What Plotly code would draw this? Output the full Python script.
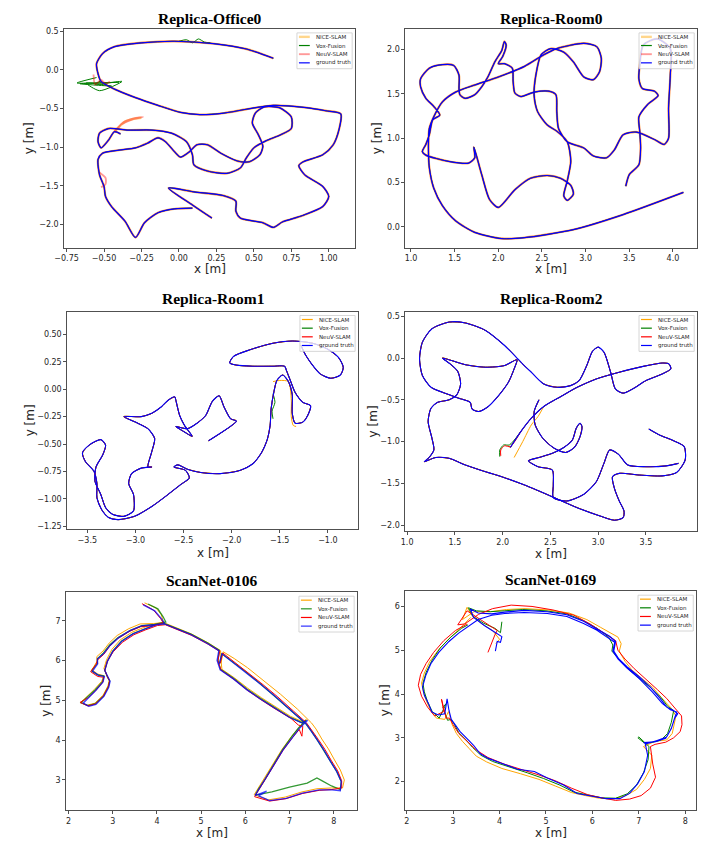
import plotly.graph_objects as go

# Page body adds an 8px margin, so the figure is drawn at (8, 8)
PAGE_OFF = 8
W, H = 710 - PAGE_OFF, 842 - PAGE_OFF

SERIES = ["NICE-SLAM", "Vox-Fusion", "NeuV-SLAM", "ground truth"]

# ---------------- Replica-Office0 ----------------
office0_gt_a_x = [0.63, 0.45, 0.23, -0.03, -0.25, -0.43, -0.51, -0.55, -0.54, -0.52, -0.43, -0.29, -0.14, 0.01, 0.14,
                  0.30, 0.45, 0.63, 0.85, 0.98, 1.08, 1.07, 1.03, 0.96, 0.83, 0.80, 0.84, 0.96, 1.00, 0.96, 0.82, 0.69,
                  0.63, 0.56, 0.41, 0.38, 0.38, 0.30, 0.10, -0.07, 0.09, 0.22]
office0_gt_a_y = [0.15, 0.27, 0.34, 0.37, 0.35, 0.30, 0.21, 0.08, -0.05, -0.15, -0.25, -0.36, -0.46, -0.55, -0.58,
                  -0.56, -0.51, -0.46, -0.49, -0.53, -0.57, -0.76, -0.97, -1.10, -1.19, -1.24, -1.36, -1.51, -1.64,
                  -1.77, -1.89, -1.97, -2.04, -1.98, -1.92, -1.83, -1.70, -1.63, -1.58, -1.53, -1.75, -1.92]
office0_gt_b_x = [0.09, -0.03, -0.14, -0.23, -0.29, -0.36, -0.45, -0.49, -0.50, -0.53, -0.54, -0.51, -0.40, -0.29,
                  -0.21, -0.14, -0.09, -0.03, 0.01, 0.07, 0.12, 0.19, 0.28, 0.39, 0.47, 0.54, 0.56, 0.53, 0.49, 0.51,
                  0.57, 0.67, 0.75, 0.75, 0.68, 0.58, 0.50, 0.45, 0.41, 0.32, 0.19, 0.10, 0.09, 0.05, -0.05, -0.18,
                  -0.34, -0.47, -0.53, -0.54, -0.52, -0.47, -0.43, -0.39]
office0_gt_b_y = [-1.79, -1.80, -1.85, -1.98, -2.17, -1.96, -1.77, -1.64, -1.51, -1.36, -1.16, -1.08, -1.04, -1.01,
                  -0.95, -0.88, -0.93, -1.06, -1.13, -1.06, -0.97, -0.97, -1.08, -1.18, -1.19, -1.10, -0.99, -0.84,
                  -0.69, -0.56, -0.48, -0.49, -0.61, -0.76, -0.84, -0.92, -1.01, -1.14, -1.27, -1.34, -1.31, -1.23,
                  -1.10, -0.93, -0.82, -0.78, -0.78, -0.76, -0.82, -0.93, -1.01, -0.91, -0.80, -0.83]
office0_nice_spike_x = [-0.43, -0.36, -0.29, -0.25]
office0_nice_spike_y = [-0.80, -0.67, -0.63, -0.62]
office0_vox_scribble_x = [-0.55, -0.68, -0.40, -0.66, -0.45, -0.62, -0.53, -0.38, -0.56, -0.52]
office0_vox_scribble_y = [-0.10, -0.17, -0.16, -0.18, -0.21, -0.17, -0.27, -0.15, -0.19, -0.14]
office0_vox_bumps_x = [0.00, 0.05, 0.09, 0.13, 0.17, 0.21]
office0_vox_bumps_y = [0.37, 0.39, 0.35, 0.40, 0.36, 0.35]
office0_neuv_zig_x = [-0.57, -0.56, -0.52, -0.49, -0.46]
office0_neuv_zig_y = [-0.06, -0.19, -0.13, -0.18, -0.15]
office0_neuv_spike_x = [-0.43, -0.37, -0.30, -0.24, -0.31, -0.39]
office0_neuv_spike_y = [-0.80, -0.68, -0.63, -0.61, -0.64, -0.71]
office0_neuv_bulge_x = [-0.53, -0.49, -0.49, -0.52]
office0_neuv_bulge_y = [-1.33, -1.40, -1.48, -1.52]
office0_xticks = [-0.75, -0.5, -0.25, 0.0, 0.25, 0.5, 0.75, 1.0]
office0_xlabels = ["\u22120.75", "\u22120.50", "\u22120.25", "0.00", "0.25", "0.50", "0.75", "1.00"]
office0_yticks = [-2.0, -1.5, -1.0, -0.5, 0.0, 0.5]
office0_ylabels = ["\u22122.0", "\u22121.5", "\u22121.0", "\u22120.5", "0.0", "0.5"]

# ---------------- Replica-Room0 ----------------
room0_gt_x = [3.46, 3.50, 3.61, 3.63, 3.62, 3.61, 3.71, 3.83, 3.79, 3.65,
              3.61, 3.62, 3.66, 3.82, 3.97, 3.97, 3.95, 3.95, 3.90, 3.80,
              3.58, 3.43, 3.33, 3.24, 3.09, 2.98, 2.79, 2.69, 2.67, 2.66,
              2.58, 2.41, 2.26, 2.19, 2.17, 2.16, 2.07, 2.00, 2.05, 2.09,
              2.07, 2.04, 1.96, 1.88, 1.81, 1.73, 1.62, 1.56, 1.55, 1.55,
              1.49, 1.36, 1.21, 1.11, 1.11, 1.17, 1.26, 1.33, 1.25, 1.21,
              1.17, 1.13, 1.17, 1.43, 1.66, 1.73, 1.72, 1.81, 1.90, 2.00,
              2.19, 2.37, 2.56, 2.71, 2.83, 2.86, 2.79, 2.75, 2.79, 2.83,
              2.79, 2.67, 2.56, 2.45, 2.41, 2.43, 2.49, 2.60, 2.75, 2.86,
              2.98, 3.09, 3.16, 3.18, 3.13, 2.98, 2.67, 2.52, 2.30, 2.00,
              1.73, 1.51, 1.36, 1.26, 1.21, 1.20, 1.21, 1.26, 1.36, 1.51,
              1.73, 2.04, 2.30, 2.86, 3.43, 4.12]
room0_gt_y = [0.46, 0.59, 0.70, 0.89, 1.08, 1.24, 1.38, 1.48, 1.53, 1.56,
              1.67, 1.82, 2.05, 2.12, 2.01, 1.71, 1.34, 1.00, 0.93, 0.98,
              1.07, 1.04, 0.87, 0.78, 0.80, 0.89, 0.96, 1.11, 1.30, 1.49,
              1.53, 1.52, 1.47, 1.51, 1.64, 1.79, 1.84, 1.84, 1.92, 2.05,
              2.09, 1.99, 1.86, 1.69, 1.58, 1.49, 1.45, 1.49, 1.56, 1.71,
              1.82, 1.83, 1.79, 1.67, 1.58, 1.45, 1.36, 1.26, 1.21, 1.04,
              0.93, 0.85, 0.81, 0.74, 0.72, 0.78, 0.90, 0.59, 0.31, 0.22,
              0.42, 0.55, 0.58, 0.55, 0.47, 0.37, 0.30, 0.35, 0.52, 0.74,
              0.96, 1.08, 1.15, 1.30, 1.49, 1.71, 1.94, 2.01, 1.97, 1.86,
              1.69, 1.66, 1.75, 1.90, 2.03, 2.07, 2.01, 1.94, 1.81, 1.69,
              1.60, 1.52, 1.41, 1.24, 1.11, 0.93, 0.67, 0.44, 0.24, 0.07,
              -0.06, -0.13, -0.12, -0.03, 0.14, 0.39]
room0_xticks = [1.0, 1.5, 2.0, 2.5, 3.0, 3.5, 4.0]
room0_xlabels = ["1.0", "1.5", "2.0", "2.5", "3.0", "3.5", "4.0"]
room0_yticks = [0.0, 0.5, 1.0, 1.5, 2.0]
room0_ylabels = ["0.0", "0.5", "1.0", "1.5", "2.0"]

# ---------------- Replica-Room1 ----------------
room1_gt_x = [-2.24, -1.95, -2.01, -2.08, -2.13, -2.20, -2.27, -2.36, -2.46, -2.58,
              -2.49, -2.41, -2.49, -2.54, -2.58, -2.59, -2.66, -2.73, -2.83, -2.94,
              -3.12, -3.00, -2.87, -2.80, -2.83, -2.87, -2.83, -2.94, -3.04, -3.07,
              -3.02, -3.02, -3.12, -3.24, -3.31, -3.36, -3.42, -3.41, -3.34, -3.31,
              -3.36, -3.48, -3.55, -3.52, -3.43, -3.40, -3.40, -3.35, -3.28, -3.18,
              -3.01, -2.83, -2.66, -2.53, -2.44, -2.48, -2.60, -2.56, -2.46, -2.32,
              -2.12, -1.91, -1.78, -1.69, -1.63, -1.60, -1.59, -1.56, -1.53, -1.47,
              -1.41, -1.37, -1.37, -1.34, -1.26, -1.21, -1.18, -1.26, -1.34, -1.39,
              -1.43, -1.45, -1.57, -1.78, -1.95, -2.02, -1.98, -1.81, -1.57, -1.37,
              -1.16, -1.01, -0.89, -0.84, -0.87, -0.97, -1.08, -1.16, -1.23, -1.28]
room1_gt_y = [-0.47, -0.29, -0.27, -0.16, -0.06, -0.11, -0.24, -0.31, -0.36, -0.34,
              -0.39, -0.43, -0.33, -0.24, -0.10, -0.07, -0.10, -0.16, -0.22, -0.25,
              -0.25, -0.30, -0.36, -0.45, -0.57, -0.71, -0.71, -0.72, -0.77, -0.86,
              -0.96, -1.11, -1.16, -1.14, -1.08, -0.96, -0.84, -0.71, -0.60, -0.51,
              -0.46, -0.51, -0.58, -0.66, -0.75, -0.86, -0.99, -1.10, -1.17, -1.19,
              -1.16, -1.07, -0.96, -0.87, -0.81, -0.74, -0.71, -0.69, -0.73, -0.76,
              -0.77, -0.74, -0.68, -0.58, -0.46, -0.33, -0.18, -0.02, 0.08, 0.13,
              0.07, -0.05, -0.22, -0.31, -0.30, -0.24, -0.15, -0.12, -0.03, 0.08,
              0.17, 0.21, 0.21, 0.21, 0.22, 0.24, 0.30, 0.36, 0.42, 0.44,
              0.42, 0.37, 0.29, 0.20, 0.13, 0.10, 0.14, 0.22, 0.31, 0.40]
room1_nice_extra_x = [-1.57, -1.50, -1.41, -1.38, -1.38, -1.36, -1.33]
room1_nice_extra_y = [0.07, 0.08, 0.07, -0.10, -0.25, -0.33, -0.34]
room1_vox_extra_x = [-1.57, -1.55, -1.58, -1.57]
room1_vox_extra_y = [-0.04, -0.12, -0.20, -0.27]
room1_xticks = [-3.5, -3.0, -2.5, -2.0, -1.5, -1.0]
room1_xlabels = ["\u22123.5", "\u22123.0", "\u22122.5", "\u22122.0", "\u22121.5", "\u22121.0"]
room1_yticks = [-1.25, -1.0, -0.75, -0.5, -0.25, 0.0, 0.25, 0.5]
room1_ylabels = ["\u22121.25", "\u22121.00", "\u22120.75", "\u22120.50", "\u22120.25", "0.00", "0.25", "0.50"]

# ---------------- Replica-Room2 ----------------
room2_gt_a_x = [2.08, 2.19, 2.30, 2.43, 2.61, 2.78, 2.98, 3.22, 3.47, 3.67, 3.74, 3.76, 3.67, 3.50, 3.36, 3.26,
                3.18, 3.13, 3.06, 3.00, 2.94, 2.88, 2.80, 2.71, 2.57, 2.43, 2.30, 2.20, 2.15, 2.02, 1.82, 1.61,
                1.44, 1.26, 1.16, 1.13, 1.16, 1.25, 1.37, 1.54, 1.66, 1.68, 1.75, 1.85, 1.95, 2.06, 2.12, 2.15,
                2.02, 1.82, 1.61, 1.37, 1.45, 1.53, 1.56, 1.52, 1.44, 1.32, 1.25, 1.22, 1.26, 1.28, 1.23, 1.18,
                1.30, 1.44, 1.61, 1.82, 1.99, 2.23, 2.50, 2.78, 3.02, 3.17, 3.26, 3.27, 3.22, 3.17, 3.15, 3.22,
                3.43, 3.67, 3.82, 3.91, 3.90, 3.79, 3.64, 3.53]
room2_gt_a_y = [-1.07, -0.88, -0.72, -0.58, -0.46, -0.35, -0.25, -0.17, -0.10, -0.06, -0.07, -0.13, -0.19, -0.27,
                -0.37, -0.42, -0.37, -0.17, 0.07, 0.13, 0.08, -0.09, -0.27, -0.33, -0.35, -0.31, -0.17, -0.06,
                0.00, 0.15, 0.33, 0.42, 0.43, 0.35, 0.19, -0.01, -0.21, -0.35, -0.41, -0.48, -0.53, -0.61, -0.64,
                -0.58, -0.46, -0.29, -0.13, -0.02, -0.09, -0.11, -0.08, 0.00, -0.07, -0.16, -0.31, -0.44, -0.50,
                -0.53, -0.60, -0.76, -0.96, -1.10, -1.19, -1.24, -1.19, -1.20, -1.28, -1.36, -1.42, -1.52, -1.65,
                -1.79, -1.89, -1.94, -1.91, -1.83, -1.71, -1.56, -1.42, -1.38, -1.40, -1.41, -1.37, -1.22, -1.06,
                -0.99, -0.92, -0.85]
room2_gt_b_x = [2.38, 2.33, 2.34, 2.42, 2.54, 2.66, 2.75, 2.81, 2.83, 2.81, 2.77, 2.73, 2.64, 2.52, 2.38, 2.27,
                2.37, 2.52, 2.53, 2.53, 2.67, 2.85, 2.98, 3.06, 3.12, 3.21, 3.31, 3.50, 3.71, 3.84]
room2_gt_b_y = [-0.50, -0.64, -0.80, -0.96, -1.08, -1.13, -1.07, -0.94, -0.82, -0.78, -0.84, -0.98, -1.07, -1.14,
                -1.19, -1.23, -1.30, -1.34, -1.52, -1.67, -1.71, -1.63, -1.48, -1.26, -1.10, -1.15, -1.28, -1.30,
                -1.29, -1.26]
room2_nice_tail_x = [2.12, 2.21, 2.30, 2.37, 2.43]
room2_nice_tail_y = [-1.19, -1.00, -0.80, -0.70, -0.58]
room2_vox_hook_x = [1.97, 1.97, 2.01, 2.07, 2.19]
room2_vox_hook_y = [-1.18, -1.10, -1.04, -1.04, -0.88]
room2_neuv_hook_x = [1.98, 1.98, 2.02, 2.08, 2.19]
room2_neuv_hook_y = [-1.17, -1.10, -1.05, -1.06, -0.88]
room2_xticks = [1.0, 1.5, 2.0, 2.5, 3.0, 3.5]
room2_xlabels = ["1.0", "1.5", "2.0", "2.5", "3.0", "3.5"]
room2_yticks = [-2.0, -1.5, -1.0, -0.5, 0.0, 0.5]
room2_ylabels = ["\u22122.0", "\u22121.5", "\u22121.0", "\u22120.5", "0.0", "0.5"]

# ---------------- ScanNet-0106 ----------------
s0106_gt_x = [3.69, 3.95, 4.11, 4.17, 3.95, 3.65, 3.39, 3.13, 2.94, 2.80, 2.65, 2.66, 2.54, 2.68, 2.81, 2.78, 2.62,
              2.46, 2.33, 2.46, 2.62, 2.80, 2.91, 2.94, 2.89, 2.82, 2.88, 3.00, 3.20, 3.46, 3.72, 3.99, 4.17, 4.39,
              4.77, 5.14, 5.40, 5.36, 5.43, 5.73, 6.03, 6.33, 6.62, 7.00, 7.29, 7.41, 7.22, 7.07, 6.85, 6.62, 6.44,
              6.29, 6.22, 6.48, 6.30, 6.55, 6.92, 7.29, 7.67, 7.96, 8.15, 8.17, 8.07, 7.93, 7.78, 7.63, 7.48, 7.37,
              7.07, 6.70, 6.33, 5.96, 5.66, 5.47, 5.41]
s0106_gt_y = [7.40, 7.25, 7.04, 6.93, 6.90, 6.87, 6.75, 6.57, 6.38, 6.18, 6.04, 5.92, 5.73, 5.63, 5.60, 5.46, 5.25,
              5.08, 4.93, 4.85, 4.90, 5.10, 5.33, 5.48, 5.58, 5.75, 5.98, 6.23, 6.48, 6.67, 6.79, 6.90, 6.92, 6.82,
              6.65, 6.43, 6.25, 6.00, 5.77, 5.54, 5.27, 5.04, 4.83, 4.57, 4.43, 4.50, 4.29, 4.08, 3.75, 3.33, 3.00,
              2.75, 2.61, 2.72, 2.60, 2.48, 2.54, 2.67, 2.75, 2.75, 2.73, 2.96, 3.21, 3.46, 3.75, 4.00, 4.25, 4.42,
              4.71, 5.08, 5.42, 5.75, 6.00, 6.17, 5.92]
s0106_nice_x = [3.72, 3.98, 4.10, 4.15, 3.92, 3.62, 3.36, 3.10, 2.92, 2.78, 2.64, 2.64, 2.53, 2.66, 2.80, 2.75, 2.58,
                2.42, 2.28, 2.42, 2.60, 2.78, 2.89, 2.92, 2.87, 2.80, 2.86, 2.98, 3.17, 3.43, 3.70, 3.97, 4.16, 4.40,
                4.78, 5.15, 5.44, 5.45, 5.47, 5.76, 6.06, 6.36, 6.65, 7.02, 7.30, 7.38, 7.20, 7.05, 6.83, 6.60, 6.42,
                6.27, 6.20, 6.52, 6.90, 7.28, 7.62, 7.95, 8.20, 8.24, 8.15, 8.02, 7.88, 7.73, 7.60, 7.50, 7.18, 6.80,
                6.42, 6.05, 5.75, 5.50, 5.45]
s0106_nice_y = [7.45, 7.32, 7.15, 6.95, 6.93, 6.92, 6.80, 6.63, 6.44, 6.24, 6.10, 5.97, 5.77, 5.66, 5.62, 5.48, 5.27,
                5.10, 4.95, 4.88, 4.93, 5.13, 5.36, 5.50, 5.62, 5.80, 6.02, 6.28, 6.52, 6.71, 6.83, 6.93, 6.95, 6.84,
                6.67, 6.45, 6.25, 6.00, 5.78, 5.56, 5.30, 5.07, 4.86, 4.60, 4.46, 4.52, 4.30, 4.10, 3.77, 3.35, 3.02,
                2.76, 2.63, 2.50, 2.57, 2.70, 2.78, 2.80, 2.80, 3.00, 3.25, 3.50, 3.78, 4.03, 4.28, 4.43, 4.78, 5.15,
                5.50, 5.82, 6.05, 6.22, 5.95]
s0106_vox_x = [3.80, 4.02, 4.14, 4.20, 3.95, 3.66, 3.40, 3.12, 2.93, 2.79, 2.66, 2.65, 2.52, 2.66, 2.80, 2.77, 2.60,
               2.44, 2.28, 2.44, 2.61, 2.79, 2.90, 2.93, 2.88, 2.82, 2.88, 3.00, 3.20, 3.46, 3.72, 3.99, 4.17, 4.40,
               4.78, 5.15, 5.41, 5.38, 5.44, 5.74, 6.04, 6.34, 6.63, 7.00, 7.28, 7.38, 7.20, 7.05, 6.84, 6.62, 6.44,
               6.29, 6.23, 6.60, 7.00, 7.40, 7.62, 7.75, 7.95, 8.15, 8.17, 8.07, 7.93, 7.78, 7.63, 7.48, 7.36, 7.07,
               6.70, 6.34, 5.97, 5.67, 5.47, 5.42]
s0106_vox_y = [7.42, 7.30, 7.10, 6.97, 6.91, 6.88, 6.76, 6.58, 6.39, 6.19, 6.05, 5.93, 5.74, 5.64, 5.61, 5.47, 5.26,
               5.09, 4.94, 4.87, 4.92, 5.11, 5.34, 5.49, 5.59, 5.76, 5.99, 6.24, 6.49, 6.68, 6.80, 6.91, 6.93, 6.83,
               6.66, 6.44, 6.26, 6.01, 5.78, 5.55, 5.28, 5.05, 4.84, 4.58, 4.44, 4.50, 4.30, 4.09, 3.76, 3.34, 3.01,
               2.76, 2.62, 2.70, 2.82, 2.92, 3.05, 2.97, 2.85, 2.76, 2.96, 3.21, 3.46, 3.75, 4.00, 4.25, 4.42, 4.71,
               5.08, 5.42, 5.75, 6.00, 6.17, 5.93]
s0106_neuv_x = [3.66, 3.92, 4.08, 4.14, 3.93, 3.63, 3.37, 3.11, 2.93, 2.80, 2.66, 2.62, 2.50, 2.66, 2.80, 2.77, 2.61,
                2.45, 2.26, 2.44, 2.61, 2.79, 2.90, 2.93, 2.88, 2.82, 2.88, 3.01, 3.22, 3.48, 3.74, 4.01, 4.19, 4.41,
                4.79, 5.16, 5.42, 5.38, 5.45, 5.75, 6.05, 6.35, 6.64, 7.02, 7.20, 7.30, 7.28, 7.22, 7.07, 6.85, 6.62,
                6.44, 6.29, 6.21, 6.55, 6.92, 7.29, 7.67, 7.96, 8.18, 8.18, 8.09, 7.95, 7.80, 7.65, 7.50, 7.38, 7.09,
                6.72, 6.35, 5.98, 5.68, 5.49, 5.43]
s0106_neuv_y = [7.43, 7.27, 7.06, 6.95, 6.88, 6.85, 6.73, 6.55, 6.36, 6.16, 6.02, 5.90, 5.72, 5.60, 5.58, 5.45, 5.24,
                5.07, 4.95, 4.86, 4.91, 5.11, 5.34, 5.49, 5.59, 5.76, 5.99, 6.22, 6.46, 6.65, 6.77, 6.88, 6.90, 6.80,
                6.63, 6.41, 6.23, 5.99, 5.76, 5.52, 5.25, 5.02, 4.81, 4.56, 4.38, 4.35, 4.10, 4.27, 4.07, 3.74, 3.32,
                3.00, 2.75, 2.58, 2.47, 2.53, 2.66, 2.74, 2.76, 2.80, 2.98, 3.23, 3.48, 3.77, 4.02, 4.27, 4.44, 4.73,
                5.10, 5.44, 5.77, 6.02, 6.19, 5.93]
s0106_xticks = [2, 3, 4, 5, 6, 7, 8]
s0106_xlabels = ["2", "3", "4", "5", "6", "7", "8"]
s0106_yticks = [3, 4, 5, 6, 7]
s0106_ylabels = ["3", "4", "5", "6", "7"]

# ---------------- ScanNet-0169 ----------------
s0169_gt_x = [3.91, 3.95, 4.02, 4.05, 3.90, 3.68, 3.44, 3.37, 3.54, 3.83, 4.11, 4.53, 5.03, 5.45, 5.81, 6.09, 6.37,
              6.50, 6.46, 6.57, 6.75, 7.00, 7.24, 7.46, 7.60, 7.74, 7.84, 7.77, 7.70, 7.60, 7.38, 7.14, 7.19, 7.12,
              6.98, 6.80, 6.59, 6.30, 5.95, 5.67, 5.38, 5.03, 4.75, 4.39, 4.04, 3.76, 3.58, 3.44, 3.30, 3.15, 3.05,
              2.96, 2.91, 2.87, 2.82, 2.68, 2.54, 2.47, 2.38, 2.34, 2.41, 2.52, 2.69, 2.91, 3.12, 3.33, 3.54, 3.83,
              4.11, 4.53, 5.03, 5.45, 5.81, 6.09, 6.36, 6.48, 6.44, 6.55, 6.74, 7.01, 7.29, 7.51, 7.68, 7.82, 7.78,
              7.70, 7.58, 7.36, 7.10]
s0169_gt_y = [4.98, 5.20, 5.18, 5.31, 5.41, 5.56, 5.75, 5.94, 5.85, 5.83, 5.87, 5.91, 5.88, 5.81, 5.66, 5.48, 5.32,
              5.20, 4.98, 4.80, 4.62, 4.40, 4.17, 3.90, 3.70, 3.63, 3.55, 3.44, 3.21, 3.02, 2.93, 2.86, 2.60, 2.23,
              1.96, 1.73, 1.61, 1.61, 1.68, 1.73, 1.92, 2.08, 2.23, 2.28, 2.42, 2.53, 2.64, 2.83, 2.98, 3.14, 3.29,
              3.42, 3.63, 3.89, 3.55, 3.52, 3.59, 3.78, 3.97, 4.16, 4.42, 4.69, 4.95, 5.20, 5.39, 5.55, 5.70, 5.80,
              5.84, 5.86, 5.84, 5.77, 5.61, 5.46, 5.28, 5.18, 4.98, 4.80, 4.60, 4.35, 4.05, 3.78, 3.64, 3.59, 3.48,
              3.21, 2.99, 2.91, 2.89]
s0169_nice_x = [3.92, 4.00, 3.85, 3.62, 3.40, 3.30, 3.20, 3.45, 3.80, 4.15, 4.55, 5.05, 5.50, 5.88, 6.18, 6.45, 6.55,
                6.62, 6.58, 6.70, 6.85, 7.05, 7.30, 7.50, 7.68, 7.80, 7.76, 7.72, 7.60, 7.35, 7.10, 7.28, 7.25, 7.12,
                6.95, 6.72, 6.45, 6.15, 5.85, 5.55, 5.20, 4.85, 4.45, 4.05, 3.72, 3.50, 3.35, 3.20, 3.07, 2.98, 2.93,
                2.90, 2.82, 2.64, 2.52, 2.42, 2.36, 2.32, 2.38, 2.50, 2.68, 2.90, 3.10, 3.30, 3.38]
s0169_nice_y = [5.15, 5.25, 5.45, 5.60, 5.80, 5.98, 5.70, 5.88, 5.88, 5.93, 5.95, 5.92, 5.85, 5.70, 5.52, 5.36, 5.30,
                5.15, 4.98, 4.75, 4.55, 4.37, 4.15, 3.90, 3.70, 3.50, 3.30, 3.10, 2.95, 2.92, 2.80, 2.60, 2.30, 2.05,
                1.82, 1.68, 1.60, 1.62, 1.68, 1.75, 1.90, 2.05, 2.18, 2.30, 2.45, 2.58, 2.75, 2.92, 3.10, 3.30, 3.50,
                3.60, 3.42, 3.45, 3.62, 3.85, 4.05, 4.25, 4.48, 4.75, 5.00, 5.25, 5.45, 5.65, 5.75]
s0169_vox_x = [4.05, 4.02, 3.90, 3.65, 3.42, 3.33, 3.50, 3.80, 4.10, 4.50, 5.00, 5.45, 5.80, 6.10, 6.35, 6.44, 6.42,
               6.55, 6.72, 6.98, 7.25, 7.48, 7.62, 7.75, 7.70, 7.62, 7.48, 7.30, 7.12, 6.98, 7.00, 7.22, 7.20, 7.10,
               6.95, 6.75, 6.50, 6.20, 5.90, 5.60, 5.30, 4.95, 4.60, 4.20, 3.85, 3.60, 3.42, 3.28, 3.12, 3.02, 2.95,
               2.88, 2.78, 2.85, 2.70, 2.55, 2.45, 2.38, 2.35, 2.42, 2.55, 2.72, 2.95, 3.18, 3.32]
s0169_vox_y = [5.65, 5.40, 5.50, 5.62, 5.78, 5.97, 5.90, 5.88, 5.90, 5.93, 5.90, 5.83, 5.68, 5.50, 5.30, 5.12, 4.98,
               4.82, 4.62, 4.38, 4.15, 3.92, 3.72, 3.62, 3.35, 3.10, 2.95, 2.90, 2.88, 3.00, 3.02, 2.80, 2.50, 2.20,
               1.92, 1.72, 1.62, 1.63, 1.70, 1.76, 1.92, 2.07, 2.20, 2.33, 2.46, 2.60, 2.78, 2.95, 3.12, 3.32, 3.42,
               3.40, 3.70, 3.78, 3.45, 3.60, 3.82, 4.05, 4.25, 4.50, 4.78, 5.05, 5.30, 5.50, 5.58]
s0169_neuv_x = [3.75, 3.82, 3.90, 3.95, 3.80, 3.55, 3.30, 3.10, 3.25, 3.55, 3.85, 4.25, 4.70, 5.15, 5.60, 5.95, 6.25,
                6.50, 6.55, 6.70, 6.90, 7.15, 7.40, 7.60, 7.82, 7.92, 7.93, 7.89, 7.75, 7.58, 7.35, 7.25, 7.30, 7.36,
                7.25, 7.05, 6.80, 6.50, 6.20, 5.90, 5.55, 5.20, 4.85, 4.50, 4.10, 3.75, 3.50, 3.30, 3.12, 3.00, 2.92,
                2.85, 2.75, 2.80, 2.60, 2.45, 2.32, 2.25, 2.30, 2.42, 2.58, 2.80, 3.05, 3.30]
s0169_neuv_y = [4.95, 5.15, 5.35, 5.45, 5.55, 5.72, 5.90, 5.58, 5.60, 5.82, 5.95, 6.03, 6.00, 5.92, 5.80, 5.60, 5.40,
                5.22, 5.00, 4.80, 4.58, 4.35, 4.10, 3.90, 3.63, 3.50, 3.30, 3.14, 3.00, 2.90, 2.85, 2.80, 2.40, 2.10,
                1.85, 1.68, 1.60, 1.57, 1.63, 1.70, 1.85, 2.02, 2.15, 2.27, 2.40, 2.55, 2.72, 2.92, 3.10, 3.30, 3.45,
                3.45, 3.88, 3.60, 3.50, 3.70, 3.95, 4.20, 4.45, 4.70, 4.95, 5.22, 5.45, 5.60]
s0169_xticks = [2, 3, 4, 5, 6, 7, 8]
s0169_xlabels = ["2", "3", "4", "5", "6", "7", "8"]
s0169_yticks = [2, 3, 4, 5, 6]
s0169_ylabels = ["2", "3", "4", "5", "6"]


def join(*segs):
    out = []
    for i, s in enumerate(segs):
        if i:
            out.append(None)
        out.extend(s)
    return out


# ---- styles (separate from data) ----
STYLE_THICK = [("rgba(255,165,0,0.45)", 2.4), ("#008000", 1.0), ("rgba(255,0,0,0.4)", 1.9), ("#0000ff", 1.2)]
STYLE_THIN = [("#ffa500", 1.0), ("#008000", 1.0), ("#ff0000", 1.0), ("#0000ff", 1.1)]
STYLE_SCAN = [("#ffa500", 1.0), ("rgba(0,128,0,0.8)", 1.3), ("#ff0000", 1.0), ("rgba(0,0,255,0.75)", 1.3)]

# panel boxes in window pixels: (left, right, top, bottom)
panels = [
    dict(title="Replica-Office0", box=(55, 350, 27, 247), xr=(-0.765, 1.176), yr=(-2.305, 0.53),
         xt=(office0_xticks, office0_xlabels), yt=(office0_yticks, office0_ylabels),
         style=STYLE_THICK, shape="spline", ylab=20, xlab=268, ttl=17,
         series=[
             (join(office0_gt_a_x, office0_gt_b_x, office0_nice_spike_x),
              join(office0_gt_a_y, office0_gt_b_y, office0_nice_spike_y)),
             (join(office0_gt_a_x, office0_gt_b_x, office0_vox_scribble_x, office0_vox_bumps_x),
              join(office0_gt_a_y, office0_gt_b_y, office0_vox_scribble_y, office0_vox_bumps_y)),
             (join(office0_gt_a_x, office0_gt_b_x, office0_neuv_zig_x, office0_neuv_spike_x, office0_neuv_bulge_x),
              join(office0_gt_a_y, office0_gt_b_y, office0_neuv_zig_y, office0_neuv_spike_y, office0_neuv_bulge_y)),
             (join(office0_gt_a_x, office0_gt_b_x), join(office0_gt_a_y, office0_gt_b_y)),
         ]),
    dict(title="Replica-Room0", box=(401, 697, 27, 247), xr=(0.936, 4.278), yr=(-0.235, 2.232),
         xt=(room0_xticks, room0_xlabels), yt=(room0_yticks, room0_ylabels),
         style=STYLE_THICK, shape="spline", ylab=373, xlab=268, ttl=17,
         series=[(room0_gt_x, room0_gt_y)] * 4),
    dict(title="Replica-Room1", box=(58, 353, 311, 530), xr=(-3.708, -0.686), yr=(-1.28, 0.709),
         xt=(room1_xticks, room1_xlabels), yt=(room1_yticks, room1_ylabels),
         style=STYLE_THIN, shape="spline", ylab=20, xlab=554, ttl=298,
         series=[
             (join(room1_gt_x, room1_nice_extra_x), join(room1_gt_y, room1_nice_extra_y)),
             (join(room1_gt_x, room1_vox_extra_x), join(room1_gt_y, room1_vox_extra_y)),
             (room1_gt_x, room1_gt_y),
             (room1_gt_x, room1_gt_y),
         ]),
    dict(title="Replica-Room2", box=(401, 697, 311, 532), xr=(0.982, 4.036), yr=(-2.075, 0.556),
         xt=(room2_xticks, room2_xlabels), yt=(room2_yticks, room2_ylabels),
         style=STYLE_THIN, shape="spline", ylab=368, xlab=555, ttl=298,
         series=[
             (join(room2_gt_a_x, room2_gt_b_x, room2_nice_tail_x), join(room2_gt_a_y, room2_gt_b_y, room2_nice_tail_y)),
             (join(room2_gt_a_x, room2_gt_b_x, room2_vox_hook_x), join(room2_gt_a_y, room2_gt_b_y, room2_vox_hook_y)),
             (join(room2_gt_a_x, room2_gt_b_x, room2_neuv_hook_x), join(room2_gt_a_y, room2_gt_b_y, room2_neuv_hook_y)),
             (join(room2_gt_a_x, room2_gt_b_x), join(room2_gt_a_y, room2_gt_b_y)),
         ]),
    dict(title="ScanNet-0106", box=(57, 352, 593, 812), xr=(1.949, 8.529), yr=(2.2425, 7.7175),
         xt=(s0106_xticks, s0106_xlabels), yt=(s0106_yticks, s0106_ylabels),
         style=STYLE_SCAN, shape="linear", ylab=37, xlab=835, ttl=581,
         series=[(s0106_nice_x, s0106_nice_y), (s0106_vox_x, s0106_vox_y),
                 (s0106_neuv_x, s0106_neuv_y), (s0106_gt_x, s0106_gt_y)]),
    dict(title="ScanNet-0169", box=(401, 696, 592, 812), xr=(1.972, 8.236), yr=(1.348, 6.348),
         xt=(s0169_xticks, s0169_xlabels), yt=(s0169_yticks, s0169_ylabels),
         style=STYLE_THIN, shape="linear", ylab=380, xlab=835, ttl=580,
         series=[(s0169_nice_x, s0169_nice_y), (s0169_vox_x, s0169_vox_y),
                 (s0169_neuv_x, s0169_neuv_y), (s0169_gt_x, s0169_gt_y)]),
]


def fx(px):
    return (px - PAGE_OFF) / W


def fy(py):
    return 1 - (py - PAGE_OFF) / H


fig = go.Figure()
layout = dict(width=W, height=H, margin=dict(l=0, r=0, t=0, b=0), paper_bgcolor="white",
              plot_bgcolor="white", showlegend=False)
annotations = []
shapes = []

FRAME = "#505050"
TICKFONT = dict(family="DejaVu Sans", size=8, color="#262626")

for i, p in enumerate(panels, start=1):
    L, R, T, B = p["box"]
    xa = "xaxis" if i == 1 else f"xaxis{i}"
    ya = "yaxis" if i == 1 else f"yaxis{i}"
    xref = "x" if i == 1 else f"x{i}"
    yref = "y" if i == 1 else f"y{i}"
    common = dict(showline=True, mirror=True, linecolor=FRAME, linewidth=1, ticks="outside", ticklen=3,
                  tickwidth=1, tickcolor=FRAME, tickfont=TICKFONT, showgrid=False, zeroline=False,
                  fixedrange=True, tickmode="array")
    layout[xa] = dict(domain=[fx(L), fx(R)], range=list(p["xr"]), anchor=yref,
                      tickvals=p["xt"][0], ticktext=p["xt"][1], **common)
    layout[ya] = dict(domain=[fy(B), fy(T)], range=list(p["yr"]), anchor=xref,
                      tickvals=p["yt"][0], ticktext=p["yt"][1], **common)

    for (sx, sy), (col, wid), name in zip(p["series"], p["style"], SERIES):
        line = dict(color=col, width=wid, shape=p["shape"])
        if p["shape"] == "spline":
            line["smoothing"] = 0.7
        fig.add_trace(go.Scatter(x=sx, y=sy, mode="lines", name=name, line=line, xaxis=xref, yaxis=yref,
                                 hoverinfo="skip", connectgaps=False))

    annotations.append(dict(text=p["title"], x=fx((L + R) / 2), y=fy(p["ttl"]),
                            xref="paper", yref="paper", showarrow=False, xanchor="center", yanchor="middle",
                            font=dict(family="Liberation Serif", size=15.5, color="black", weight="bold")))
    annotations.append(dict(text="x [m]", x=fx((L + R) / 2), y=fy(p["xlab"]), xref="paper", yref="paper",
                            showarrow=False, xanchor="center", yanchor="middle",
                            font=dict(family="DejaVu Sans", size=12, color="#262626")))
    annotations.append(dict(text="y [m]", x=fx(p["ylab"]), y=fy((T + B) / 2), xref="paper", yref="paper",
                            showarrow=False, xanchor="center", yanchor="middle", textangle=-90,
                            font=dict(family="DejaVu Sans", size=12, color="#262626")))

    # legend box
    bx0, bx1, by0, by1 = R - 59, R - 3, T + 4, T + 40
    shapes.append(dict(type="rect", xref="paper", yref="paper", x0=fx(bx0), x1=fx(bx1), y0=fy(by1),
                       y1=fy(by0), line=dict(color="#cccccc", width=0.8),
                       fillcolor="rgba(255,255,255,0.8)", layer="above"))
    for k, ((col, wid), name) in enumerate(zip(p["style"], SERIES)):
        ey = T + 8 + k * 8.7
        shapes.append(dict(type="line", xref="paper", yref="paper", x0=fx(bx0 + 2), x1=fx(bx0 + 13),
                           y0=fy(ey), y1=fy(ey), line=dict(color=col, width=max(wid, 1.2)), layer="above"))
        annotations.append(dict(text=name, x=fx(bx0 + 17), y=fy(ey), xref="paper", yref="paper",
                                showarrow=False, xanchor="left", yanchor="middle",
                                font=dict(family="DejaVu Sans", size=5.5, color="#262626")))

layout["annotations"] = annotations
layout["shapes"] = shapes
fig.update_layout(**layout)
fig.write_html("out.html")
